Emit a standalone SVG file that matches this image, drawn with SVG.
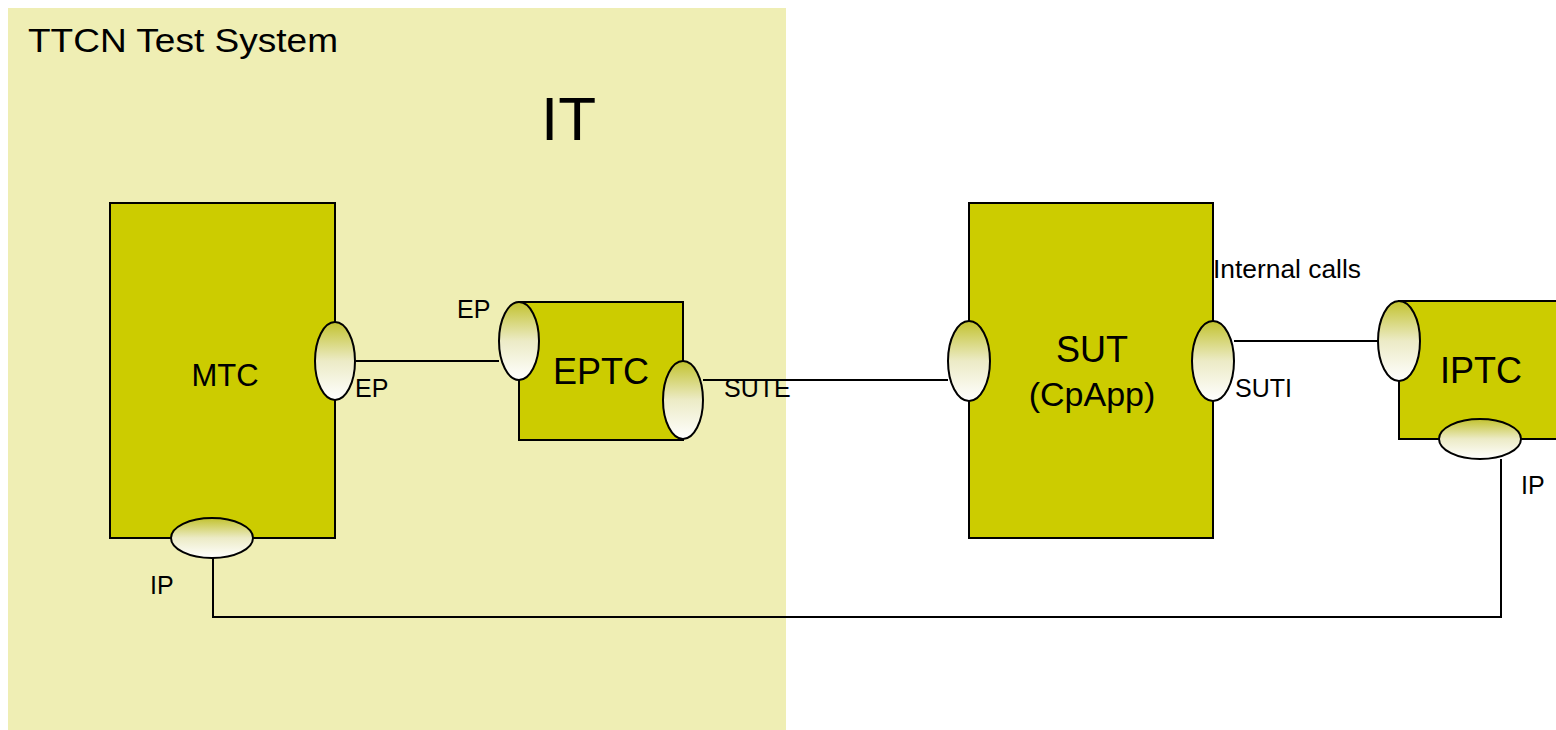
<svg xmlns="http://www.w3.org/2000/svg" width="1556" height="730" viewBox="0 0 1556 730">
<style>
.body{fill:#cccc00;stroke:#000;stroke-width:2}
.port{fill:url(#pg);stroke:#000;stroke-width:2}
.wire{fill:none;stroke:#000;stroke-width:2}
text{font-family:"Liberation Sans",Arial,sans-serif;fill:#000}
.lbl{font-size:25px}
.big{font-size:36px}
</style>
<defs>
<linearGradient id="pg" x1="0" y1="0" x2="0" y2="1">
<stop offset="0" stop-color="#c2c22e"/>
<stop offset="0.5" stop-color="#ecebc6"/>
<stop offset="1" stop-color="#ffffff"/>
</linearGradient>
</defs>
<rect x="0" y="0" width="1556" height="730" fill="#ffffff"/>
<g id="ttcn-system">
<rect x="8" y="8" width="778" height="722" fill="#efeeb4"/>
<text x="28" y="52" style="font-size:34px" textLength="310" lengthAdjust="spacingAndGlyphs">TTCN Test System</text>
<text x="541" y="140" style="font-size:62px">IT</text>
</g>
<g id="connectors">
<path class="wire" d="M356,361 H499"/>
<path class="wire" d="M703,380 H948"/>
<path class="wire" d="M1234,341 H1378"/>
<path class="wire" d="M213,558 V617 H1501 V459"/>
</g>
<g id="mtc">
<rect class="body" x="110" y="203" width="225" height="335"/>
<text class="big" x="225" y="386" text-anchor="middle" style="font-size:31px">MTC</text>
<ellipse class="port" cx="335" cy="361" rx="20" ry="39"/>
<ellipse class="port" cx="212" cy="538" rx="41" ry="20"/>
<text class="lbl" x="355" y="397">EP</text>
<text class="lbl" x="150" y="594">IP</text>
</g>
<g id="eptc">
<path class="body" d="M519,302 H683 V440 H519 Z"/>
<ellipse class="port" cx="519" cy="341" rx="20" ry="39"/>
<ellipse class="port" cx="683" cy="400" rx="20" ry="39"/>
<text class="big" x="601" y="384" text-anchor="middle">EPTC</text>
<text class="lbl" x="457" y="318">EP</text>
<text class="lbl" x="724" y="397">SUTE</text>
</g>
<g id="sut">
<rect class="body" x="969" y="203" width="244" height="335"/>
<ellipse class="port" cx="969" cy="361" rx="21" ry="40"/>
<ellipse class="port" cx="1213" cy="361" rx="21" ry="40"/>
<text class="big" x="1092" y="362" text-anchor="middle">SUT</text>
<text class="big" x="1092" y="406" text-anchor="middle" style="font-size:34px">(CpApp)</text>
<text class="lbl" x="1213" y="278" textLength="148" lengthAdjust="spacingAndGlyphs">Internal calls</text>
<text class="lbl" x="1235" y="397">SUTI</text>
</g>
<g id="iptc">
<path class="body" d="M1560,301 H1399 V439 H1560"/>
<ellipse class="port" cx="1399" cy="341" rx="21" ry="40"/>
<ellipse class="port" cx="1480" cy="439" rx="41" ry="20"/>
<text class="big" x="1481" y="383" text-anchor="middle">IPTC</text>
<text class="lbl" x="1521" y="494">IP</text>
</g>
</svg>
